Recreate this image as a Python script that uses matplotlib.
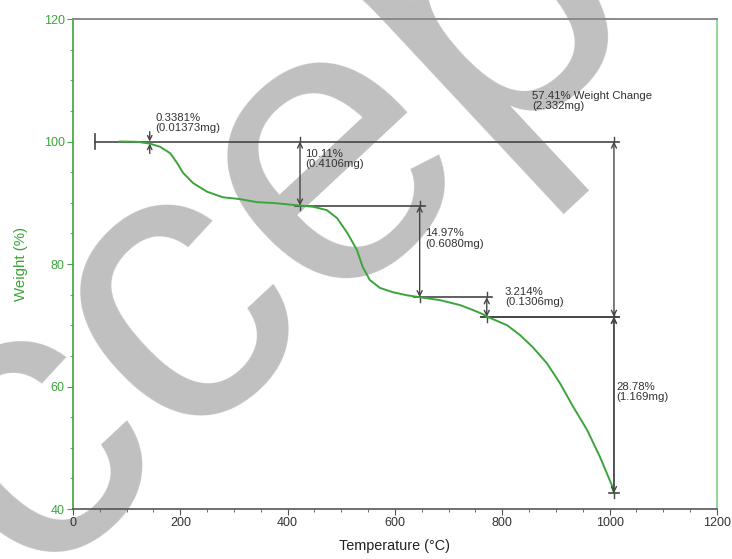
import matplotlib
matplotlib.use('Agg')
import matplotlib.pyplot as plt
from matplotlib.ticker import MultipleLocator

plt.rcParams['font.family'] = ['Liberation Sans', 'DejaVu Sans']

# ---- data ----
temperature = [87, 120, 143, 162, 181, 194, 205, 224, 250, 279, 311, 343, 373, 423,
               447, 473, 492, 511, 529, 540, 553, 572, 596, 622, 646, 684, 721, 745,
               764, 771, 777, 809, 833, 857, 883, 907, 932, 958, 982, 1004, 1008]
weight = [100.0, 99.95, 99.66, 99.15, 98.1, 96.5, 94.9, 93.2, 91.8, 90.9, 90.6, 90.1,
          89.96, 89.55, 89.35, 88.8, 87.5, 85.1, 82.3, 79.5, 77.4, 76.1, 75.4, 74.9,
          74.58, 74.1, 73.3, 72.5, 71.8, 71.37, 71.2, 70.0, 68.4, 66.4, 63.8, 60.6,
          56.7, 52.9, 48.5, 43.9, 42.59]

x_ticks = [0, 200, 400, 600, 800, 1000, 1200]
y_ticks = [40, 60, 80, 100, 120]

baseline_start = 41
baseline_level = 100.0
# step markers: temperature, upper level, lower level
step_temps = [143, 423, 646, 771, 1008]
step_upper = [100.0, 100.0, 89.55, 74.58, 71.37]
step_lower = [99.66, 89.55, 74.58, 71.37, 42.59]
step_labels = ["0.3381%\n(0.01373mg)", "10.11%\n(0.4106mg)", "14.97%\n(0.6080mg)",
               "3.214%\n(0.1306mg)", "28.78%\n(1.169mg)"]
label_pos_T = [153, 432, 656, 805, 1013]
label_pos_W = [104.7, 98.8, 85.8, 76.3, 60.8]

total_T = 1008
total_upper = 100.0
total_lower = 71.37
total_label = "57.41% Weight Change\n(2.332mg)"
total_label_T = 855
total_label_W = 108.3

watermark = "Accepted"

# ---- styling ----
green = '#3ba53b'
ann = '#454545'

fig = plt.figure(figsize=(7.32, 5.59), dpi=100)
fig.text(-0.2213, -0.390, watermark, rotation=43, rotation_mode='anchor',
         ha='left', va='baseline', fontsize=288, color='#c0c0c0', zorder=-5)

ax = fig.add_axes([0.0997, 0.0894, 0.8798, 0.8766])
ax.patch.set_visible(False)

ax.plot(temperature, weight, color=green, lw=1.4, zorder=3)

# horizontal reference lines
ext = 10
ax.plot([baseline_start, total_T + ext], [baseline_level, baseline_level], color=ann, lw=1.2, zorder=2)
ax.plot([baseline_start, baseline_start], [baseline_level - 1.2, baseline_level + 1.2], color=ann, lw=1.2)
for i in range(2, len(step_temps)):
    left = step_temps[i - 1] - ext
    right = step_temps[i] + ext
    ax.plot([left, right], [step_upper[i], step_upper[i]], color=ann, lw=1.2, zorder=2)
ax.plot([step_temps[3] - ext, total_T + ext], [total_lower, total_lower], color=ann, lw=1.2, zorder=2)
ax.plot([total_T - ext, total_T + ext], [step_lower[-1], step_lower[-1]], color=ann, lw=1.2, zorder=2)

ap = dict(arrowstyle='<->', color=ann, lw=1.0, shrinkA=0, shrinkB=0, mutation_scale=9)
for i, (t, up, lo) in enumerate(zip(step_temps, step_upper, step_lower)):
    if up - lo < 1.0:
        ap1 = dict(arrowstyle='->', color=ann, lw=1.0, shrinkA=0, shrinkB=0, mutation_scale=8)
        ax.annotate('', xy=(t, up), xytext=(t, up + 1.6), arrowprops=ap1)
        ax.annotate('', xy=(t, lo), xytext=(t, lo - 1.6), arrowprops=ap1)
    else:
        ax.annotate('', xy=(t, lo), xytext=(t, up), arrowprops=ap)
        ax.plot([t, t], [up, up + 0.8], color=ann, lw=1.0)
        ax.plot([t, t], [lo, lo - 0.8], color=ann, lw=1.0)
    ax.text(label_pos_T[i], label_pos_W[i], step_labels[i], fontsize=8.2, color='#333333',
            ha='left', va='top', linespacing=1.05)

ax.annotate('', xy=(total_T, total_upper), xytext=(total_T, total_lower), arrowprops=ap)
ax.annotate('', xy=(total_T, total_lower), xytext=(total_T, step_lower[-1]),
            arrowprops=dict(arrowstyle='->', color=ann, lw=1.0, shrinkA=0, shrinkB=0, mutation_scale=9))
ax.plot([total_T, total_T], [total_upper, total_upper + 0.8], color=ann, lw=1.0)
ax.text(total_label_T, total_label_W, total_label, fontsize=8.2, color='#333333',
        ha='left', va='top', linespacing=1.05)

ax.set_xlim(0, 1200)
ax.set_ylim(40, 120)
ax.set_xticks(x_ticks)
ax.set_yticks(y_ticks)
ax.xaxis.set_minor_locator(MultipleLocator(50))
ax.yaxis.set_minor_locator(MultipleLocator(5))
ax.tick_params(axis='both', which='major', direction='out', length=4, labelsize=9, pad=2)
ax.tick_params(axis='both', which='minor', direction='out', length=2.5)
ax.tick_params(axis='y', which='both', colors=green, labelcolor=green)
ax.tick_params(axis='x', which='both', colors='#555555', labelcolor='#333333')

ax.spines['left'].set_color(green)
ax.spines['left'].set_linewidth(1.2)
ax.spines['right'].set_color('#7fcf7f')
ax.spines['right'].set_linewidth(1.2)
ax.spines['top'].set_color('#8a8a8a')
ax.spines['top'].set_linewidth(1.4)
ax.spines['bottom'].set_color('#555555')
ax.spines['bottom'].set_linewidth(1.2)

ax.set_xlabel('Temperature (°C)', fontsize=10.4, color='#222222', labelpad=7)
ax.set_ylabel('Weight (%)', fontsize=10.8, color=green, labelpad=11)

fig.savefig('out.png', dpi=100)
